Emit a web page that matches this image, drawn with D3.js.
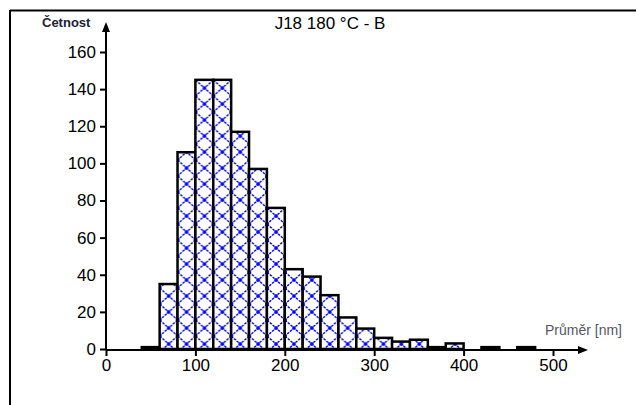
<!DOCTYPE html>
<html lang="cs">
<head>
    <meta charset="UTF-8">
    <title>J18 180 °C - B</title>
    <script src="https://d3js.org/d3.v7.min.js"></script>
    <style>
        body { margin: 0; background: #fff; }
        svg text { font-family: "Liberation Sans", Arial, sans-serif; }
    </style>
</head>
<body>
    <div id="chart"></div>
    <script>
        // bin start (nm), bin width 20 nm
        var binStarts = [40, 60, 80, 100, 120, 140, 160, 180, 200, 220, 240, 260, 280, 300, 320, 340, 360, 380, 400, 420, 440, 460];
        var counts    = [1, 35, 106, 145, 145, 117, 97, 76, 43, 39, 29, 17, 11, 6, 4, 5, 1, 3, 0, 1, 0, 1];
        var binWidth = 20;
        var xTicks = [0, 100, 200, 300, 400, 500];
        var yTicks = [0, 20, 40, 60, 80, 100, 120, 140, 160];

        var width = 637, height = 405;

        var svg = d3.select("#chart").append("svg")
            .attr("width", width)
            .attr("height", height);

        // hatch pattern for the bars
        var pw = 17.9, ph = 16;
        var pat = svg.append("defs").append("pattern")
            .attr("id", "hatch")
            .attr("patternUnits", "userSpaceOnUse")
            .attr("width", pw)
            .attr("height", ph)
            .attr("x", 106)
            .attr("y", 0);
        pat.append("rect").attr("width", pw).attr("height", ph).attr("fill", "#fff");
        pat.append("path")
            .attr("d", "M0,0 L" + pw + "," + ph + " M" + pw + ",0 L0," + ph)
            .attr("stroke", "#0000ff")
            .attr("stroke-width", 1.4)
            .attr("stroke-dasharray", "2.5,1.2");
        pat.append("rect").attr("x", pw / 2 - 1.7).attr("y", ph / 2 - 1.7).attr("width", 3.4).attr("height", 3.4).attr("fill", "#0000ff");
        [[0, 0], [pw, 0], [0, ph], [pw, ph]].forEach(function (c) {
            pat.append("rect").attr("x", c[0] - 1.7).attr("y", c[1] - 1.7).attr("width", 3.4).attr("height", 3.4).attr("fill", "#0000ff");
        });

        // frame
        svg.append("line").attr("x1", 10).attr("x2", 636).attr("y1", 10.5).attr("y2", 10.5)
            .attr("stroke", "#000").attr("stroke-width", 2);
        svg.append("line").attr("x1", 10).attr("x2", 10).attr("y1", 10).attr("y2", 405)
            .attr("stroke", "#000").attr("stroke-width", 2);

        var x = d3.scaleLinear().domain([0, 500]).range([106, 553]);
        var y = d3.scaleLinear().domain([0, 160]).range([349, 52]);

        var bins = binStarts.map((d, i) => ({ start: d, count: counts[i] }))
            .filter(d => d.count > 0);

        // bars
        svg.append("g").selectAll("rect")
            .data(bins)
            .enter().append("rect")
            .attr("x", d => x(d.start))
            .attr("width", d => x(d.start + binWidth) - x(d.start))
            .attr("y", d => y(d.count))
            .attr("height", d => y(0) - y(d.count))
            .attr("fill", "url(#hatch)")
            .attr("stroke", "#000")
            .attr("stroke-width", 2.5);

        // y axis
        var yAxis = d3.axisLeft(y).tickValues(yTicks).tickSize(6).tickPadding(4);
        var gy = svg.append("g").attr("transform", "translate(106,0)").call(yAxis);
        gy.select(".domain").remove();
        gy.selectAll("line").attr("stroke-width", 2);
        gy.selectAll("text").style("font-size", "17px").attr("fill", "#000");
        svg.append("line").attr("x1", 106).attr("x2", 106).attr("y1", 350).attr("y2", 26)
            .attr("stroke", "#000").attr("stroke-width", 2);
        svg.append("path").attr("d", "M106,22 L102,32 L110,32 Z").attr("fill", "#000");

        // x axis
        var xAxis = d3.axisBottom(x).tickValues(xTicks).tickSize(6).tickPadding(3);
        var gx = svg.append("g").attr("transform", "translate(0,350)").call(xAxis);
        gx.select(".domain").remove();
        gx.selectAll("line").attr("stroke-width", 2);
        gx.selectAll("text").style("font-size", "17px").attr("fill", "#000");
        svg.append("line").attr("x1", 106).attr("x2", 582).attr("y1", 350).attr("y2", 350)
            .attr("stroke", "#000").attr("stroke-width", 2);
        svg.append("path").attr("d", "M588,350 L578,346 L578,354 Z").attr("fill", "#000");

        // labels
        svg.append("text").attr("x", 330).attr("y", 29).attr("text-anchor", "middle")
            .style("font-size", "17px").text("J18 180 °C - B");
        svg.append("text").attr("x", 42).attr("y", 27)
            .style("font-size", "13px").style("font-weight", "bold").attr("fill", "#223")
            .text("Četnost");
        svg.append("text").attr("x", 545).attr("y", 335)
            .style("font-size", "14px").attr("fill", "#556")
            .text("Průměr [nm]");
    </script>
</body>
</html>
